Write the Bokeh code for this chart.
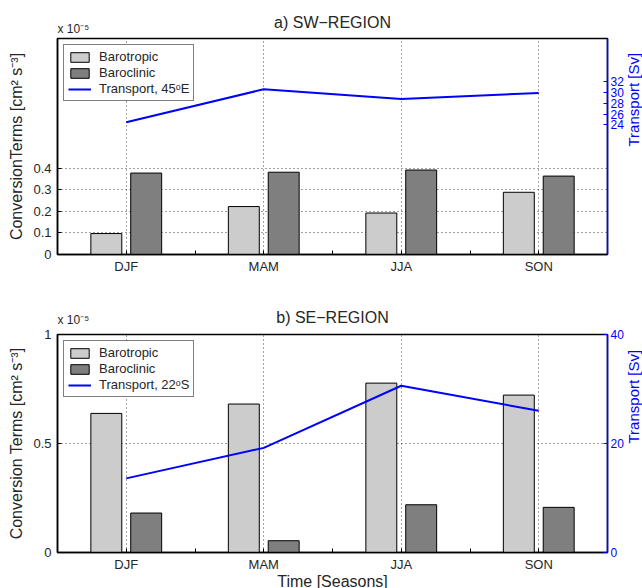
import math
from bokeh.plotting import figure
from bokeh.models import (Range1d, LinearAxis, FixedTicker, NumeralTickFormatter,
                          Legend, LegendItem, ColumnDataSource, Label)
from bokeh.layouts import column
from bokeh.transform import dodge
from bokeh.embed import file_html
from bokeh.resources import INLINE

seasons = ["DJF", "MAM", "JJA", "SON"]

sw_barotropic = [0.097, 0.222, 0.192, 0.288]
sw_baroclinic = [0.377, 0.381, 0.391, 0.363]
sw_transport = [24.5, 30.6, 28.8, 29.9]

se_barotropic = [0.638, 0.681, 0.777, 0.722]
se_baroclinic = [0.181, 0.054, 0.219, 0.207]
se_transport = [13.6, 19.2, 30.6, 26.0]

sw_left_ticks = [0, 0.1, 0.2, 0.3, 0.4]
sw_right_ticks = [24, 26, 28, 30, 32]
se_left_ticks = [0, 0.5, 1]
se_right_ticks = [0, 20, 40]
transport_range = (0, 40)
x_extent = (0.5, 4.5)

FONT = "Liberation Sans"
TXT = "#262626"
BT_COLOR = "#cccccc"
BC_COLOR = "#7f7f7f"
PAGE_W = 642
LEFT = 57
RIGHT = 35
FRAME_W = PAGE_W - LEFT - RIGHT


def header(title, h, title_y, note_y):
    """A strip above a panel that holds the panel title and the exponent note."""
    hd = figure(frame_width=FRAME_W, frame_height=h,
                min_border_left=LEFT, min_border_right=RIGHT,
                min_border_top=0, min_border_bottom=0,
                x_range=Range1d(*x_extent), y_range=Range1d(h, 0),
                x_axis_type=None, y_axis_type=None,
                output_backend="svg", toolbar_location=None)
    hd.outline_line_color = None
    hd.background_fill_color = "white"
    hd.border_fill_color = "white"
    hd.add_layout(Label(x=sum(x_extent) / 2, y=title_y, text=title, text_align="center",
                        text_baseline="middle", text_font=FONT, text_font_size="16px",
                        text_color=TXT))
    hd.add_layout(Label(x=x_extent[0], y=note_y, text="x 10⁻⁵", text_align="left",
                        text_baseline="middle", text_font=FONT, text_font_size="12px",
                        text_color=TXT))
    return hd


def style_label(ax, size="16px", color=TXT):
    ax.axis_label_text_font = FONT
    ax.axis_label_text_font_size = size
    ax.axis_label_text_font_style = "normal"
    ax.axis_label_text_color = color


def panel(ylabel, barotropic, baroclinic, transport, lticks, rticks,
          leg_line, frame_h, top, bottom, xlabel=None):
    idx = list(range(1, len(seasons) + 1))
    src = ColumnDataSource(dict(x=idx, bt=barotropic, bc=baroclinic, tr=transport))
    p = figure(title=None, frame_width=FRAME_W, frame_height=frame_h,
               min_border_left=LEFT, min_border_right=RIGHT,
               min_border_top=top, min_border_bottom=bottom,
               x_range=Range1d(*x_extent), y_range=Range1d(0, 1),
               output_backend="svg", toolbar_location=None)
    p.extra_y_ranges = {"tr": Range1d(*transport_range)}
    p.background_fill_color = "white"
    p.border_fill_color = "white"
    p.outline_line_color = "black"
    p.outline_line_width = 1.5

    # grids
    p.xgrid.ticker = FixedTicker(ticks=idx)
    p.ygrid.ticker = FixedTicker(ticks=lticks)
    for g in (p.xgrid, p.ygrid):
        g.grid_line_color = "#444444"
        g.grid_line_dash = "1 3"
        g.grid_line_width = 1

    # x axis
    xa = p.xaxis[0]
    xa.ticker = FixedTicker(ticks=idx, minor_ticks=[i + 0.5 for i in idx[:-1]])
    xa.major_label_overrides = {i: s for i, s in zip(idx, seasons)}
    xa.major_tick_in = 4
    xa.major_tick_out = 0
    xa.minor_tick_in = 4
    xa.minor_tick_out = 0
    xa.major_label_standoff = 4
    xa.axis_line_width = 1.5
    if xlabel:
        xa.axis_label = xlabel
        xa.axis_label_standoff = -2
        style_label(xa)

    # left axis
    ya = p.yaxis[0]
    ya.ticker = FixedTicker(ticks=lticks)
    ya.formatter = NumeralTickFormatter(format="0.[0]")
    ya.major_tick_in = 4
    ya.major_tick_out = 0
    ya.minor_tick_line_color = None
    ya.major_label_standoff = 6
    ya.axis_line_width = 1.5
    ya.axis_label = ylabel
    ya.axis_label_standoff = 5
    style_label(ya)

    for ax in (xa, ya):
        ax.major_label_text_font = FONT
        ax.major_label_text_font_size = "13px"
        ax.major_label_text_color = TXT
        ax.axis_line_color = "black"
        ax.major_tick_line_color = "black"
    xa.minor_tick_line_color = "black"

    # right axis (transport ticks)
    ra = LinearAxis(y_range_name="tr", ticker=FixedTicker(ticks=rticks))
    ra.major_tick_in = 4
    ra.major_tick_out = 0
    ra.minor_tick_line_color = None
    ra.major_label_standoff = 3
    ra.axis_line_color = "blue"
    ra.axis_line_width = 1.5
    ra.major_tick_line_color = "blue"
    ra.major_label_text_color = "blue"
    ra.major_label_text_font = FONT
    ra.major_label_text_font_size = "12px"
    p.add_layout(ra, "right")

    # right axis title, drawn as a rotated tick label so it reads bottom-to-top
    mid = sum(transport_range) / 2
    rl = LinearAxis(y_range_name="tr", ticker=FixedTicker(ticks=[mid]))
    rl.major_label_overrides = {mid: "Transport [Sv]"}
    rl.major_label_orientation = math.pi / 2
    rl.major_label_standoff = 1
    rl.major_label_text_font = FONT
    rl.major_label_text_font_size = "15px"
    rl.major_label_text_color = "blue"
    rl.major_tick_line_color = None
    rl.minor_tick_line_color = None
    rl.axis_line_color = None
    p.add_layout(rl, "right")

    r1 = p.vbar(x=dodge("x", -0.145, range=p.x_range), top="bt", width=0.225, source=src,
                fill_color=BT_COLOR, line_color="black", line_width=1)
    r2 = p.vbar(x=dodge("x", 0.145, range=p.x_range), top="bc", width=0.225, source=src,
                fill_color=BC_COLOR, line_color="black", line_width=1)
    r3 = p.line(x="x", y="tr", source=src, y_range_name="tr", line_color="blue", line_width=2)

    leg = Legend(items=[LegendItem(label="Barotropic", renderers=[r1]),
                        LegendItem(label="Baroclinic", renderers=[r2]),
                        LegendItem(label=leg_line, renderers=[r3])],
                 location="top_left", margin=6, padding=4, spacing=1,
                 label_height=15, glyph_height=12, glyph_width=23, label_standoff=8,
                 border_line_color="black", border_line_width=1,
                 background_fill_color="white", background_fill_alpha=1,
                 label_text_font=FONT, label_text_font_size="13px", label_text_color=TXT)
    p.add_layout(leg)
    return p


# page rows: header1 36 | panel1 2+216+40 | header2 32 | panel2 8+218+36  -> 588
h1 = header("a) SW−REGION", 36, 22, 28)
p1 = panel("ConversionTerms [cm² s⁻³]", sw_barotropic, sw_baroclinic,
           sw_transport, sw_left_ticks, sw_right_ticks, "Transport, 45ᵒE", 216, 2, 40)
h2 = header("b) SE−REGION", 32, 23, 25)
p2 = panel("Conversion Terms [cm² s⁻³]", se_barotropic, se_baroclinic,
           se_transport, se_left_ticks, se_right_ticks, "Transport, 22ᵒS", 218, 8, 36,
           xlabel="Time [Seasons]")

layout = column(h1, p1, h2, p2, spacing=0)
open("out.html", "w").write(file_html(layout, INLINE))
